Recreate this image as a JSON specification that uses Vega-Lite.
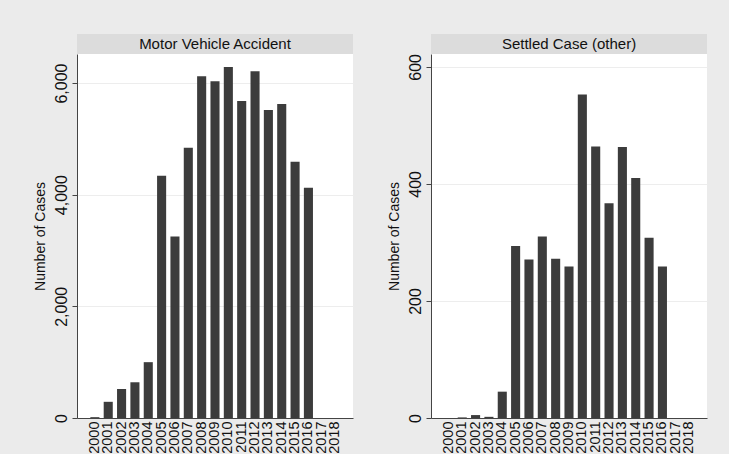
{
  "$schema": "https://vega.github.io/schema/vega-lite/v6.json",
  "background": "#EBEBEB",
  "padding": {"left": 33, "top": 34, "right": 22, "bottom": 0},
  "spacing": 34,
  "config": {
    "view": {"stroke": null},
    "font": "Liberation Sans",
    "axisY": {
      "labelAngle": -90, "labelAlign": "center", "labelBaseline": "bottom",
      "tickSize": 5, "labelPadding": 3, "titlePadding": 6,
      "labelFontSize": 16, "titleFontSize": 14, "titleFontWeight": "normal",
      "labelColor": "#111", "titleColor": "#111",
      "domainColor": "#444", "tickColor": "#444", "gridColor": "#EDEDED", "grid": true
    },
    "axisX": {
      "labelAngle": -90, "labelAlign": "right", "labelBaseline": "middle",
      "ticks": false, "labelPadding": 3, "labelFontSize": 14.5, "labelColor": "#111",
      "domainColor": "#444", "grid": false, "title": null, "labelOverlap": false
    }
  },
  "datasets": {
    "cases": [
      {"panel": "mva", "year": "2000", "cases": 15},
      {"panel": "mva", "year": "2001", "cases": 290},
      {"panel": "mva", "year": "2002", "cases": 520},
      {"panel": "mva", "year": "2003", "cases": 640},
      {"panel": "mva", "year": "2004", "cases": 1000},
      {"panel": "mva", "year": "2005", "cases": 4340},
      {"panel": "mva", "year": "2006", "cases": 3250},
      {"panel": "mva", "year": "2007", "cases": 4840},
      {"panel": "mva", "year": "2008", "cases": 6120},
      {"panel": "mva", "year": "2009", "cases": 6030},
      {"panel": "mva", "year": "2010", "cases": 6285},
      {"panel": "mva", "year": "2011", "cases": 5680},
      {"panel": "mva", "year": "2012", "cases": 6210},
      {"panel": "mva", "year": "2013", "cases": 5515},
      {"panel": "mva", "year": "2014", "cases": 5625},
      {"panel": "mva", "year": "2015", "cases": 4590},
      {"panel": "mva", "year": "2016", "cases": 4125},
      {"panel": "mva", "year": "2017", "cases": 0},
      {"panel": "mva", "year": "2018", "cases": 0},
      {"panel": "settled", "year": "2000", "cases": 0},
      {"panel": "settled", "year": "2001", "cases": 1},
      {"panel": "settled", "year": "2002", "cases": 5},
      {"panel": "settled", "year": "2003", "cases": 2},
      {"panel": "settled", "year": "2004", "cases": 45},
      {"panel": "settled", "year": "2005", "cases": 294},
      {"panel": "settled", "year": "2006", "cases": 271},
      {"panel": "settled", "year": "2007", "cases": 310},
      {"panel": "settled", "year": "2008", "cases": 272},
      {"panel": "settled", "year": "2009", "cases": 259},
      {"panel": "settled", "year": "2010", "cases": 553},
      {"panel": "settled", "year": "2011", "cases": 464},
      {"panel": "settled", "year": "2012", "cases": 367},
      {"panel": "settled", "year": "2013", "cases": 463},
      {"panel": "settled", "year": "2014", "cases": 410},
      {"panel": "settled", "year": "2015", "cases": 308},
      {"panel": "settled", "year": "2016", "cases": 259},
      {"panel": "settled", "year": "2017", "cases": 0},
      {"panel": "settled", "year": "2018", "cases": 0}
    ]
  },
  "hconcat": [
    {
      "vconcat": [
        {
          "width": 276, "height": 20,
          "view": {"fill": "#DCDCDC", "stroke": null},
          "data": {"values": [{"t": "Motor Vehicle Accident"}]},
          "mark": {"type": "text", "fontSize": 15, "color": "#111"},
          "encoding": {"text": {"field": "t"}}
        },
        {
          "width": 276, "height": 364,
          "view": {"fill": "white", "stroke": null},
          "data": {"name": "cases"},
          "transform": [{"filter": "datum.panel === 'mva'"}],
          "mark": {"type": "bar", "color": "#3C3C3C"},
          "encoding": {
            "x": {"field": "year", "type": "ordinal", "scale": {"paddingInner": 0.32, "paddingOuter": 1.0}},
            "y": {"field": "cases", "type": "quantitative", "scale": {"domain": [0, 6520], "nice": false},
                  "axis": {"values": [0, 2000, 4000, 6000], "format": ",d", "title": "Number of Cases"}}
          }
        }
      ],
      "spacing": 0,
      "bounds": "flush"
    },
    {
      "vconcat": [
        {
          "width": 276, "height": 20,
          "view": {"fill": "#DCDCDC", "stroke": null},
          "data": {"values": [{"t": "Settled Case (other)"}]},
          "mark": {"type": "text", "fontSize": 15, "color": "#111"},
          "encoding": {"text": {"field": "t"}}
        },
        {
          "width": 276, "height": 364,
          "view": {"fill": "white", "stroke": null},
          "data": {"name": "cases"},
          "transform": [{"filter": "datum.panel === 'settled'"}],
          "mark": {"type": "bar", "color": "#3C3C3C"},
          "encoding": {
            "x": {"field": "year", "type": "ordinal", "scale": {"paddingInner": 0.32, "paddingOuter": 1.0}},
            "y": {"field": "cases", "type": "quantitative", "scale": {"domain": [0, 622], "nice": false},
                  "axis": {"values": [0, 200, 400, 600], "format": ",d", "title": "Number of Cases"}}
          }
        }
      ],
      "spacing": 0,
      "bounds": "flush"
    }
  ]
}
